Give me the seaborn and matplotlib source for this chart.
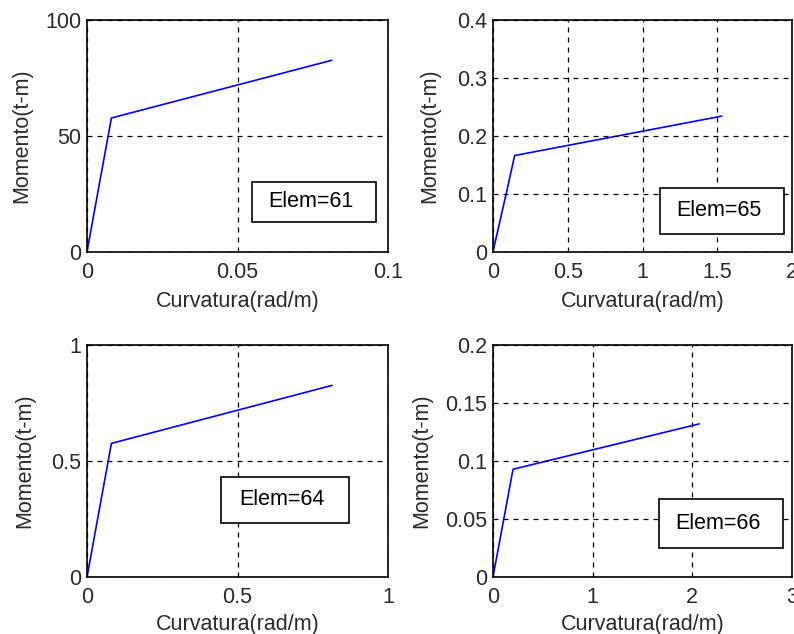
import matplotlib
matplotlib.use("Agg")
import matplotlib.pyplot as plt
import seaborn as sns
import pandas as pd
from matplotlib.patches import Rectangle

sns.set_theme(style="white")
plt.rcParams['font.family'] = ['Liberation Sans', 'DejaVu Sans']

# ---- data ----
elements = [61, 65, 64, 66]
curv_61 = [0.0, 0.0081, 0.0813]
mom_61 = [0.0, 57.7, 82.6]
curv_65 = [0.0, 0.09, 0.145, 1.53]
mom_65 = [0.0, 0.102, 0.166, 0.234]
curv_64 = [0.0, 0.081, 0.814]
mom_64 = [0.0, 0.576, 0.826]
curv_66 = [0.0, 0.201, 2.068]
mom_66 = [0.0, 0.0929, 0.132]

xlims = [(0, 0.1), (0, 2), (0, 1), (0, 3)]
ylims = [(0, 100), (0, 0.4), (0, 1), (0, 0.2)]
xticks = [[0, 0.05, 0.1], [0, 0.5, 1, 1.5, 2], [0, 0.5, 1], [0, 1, 2, 3]]
xticklabels = [["0", "0.05", "0.1"], ["0", "0.5", "1", "1.5", "2"],
               ["0", "0.5", "1"], ["0", "1", "2", "3"]]
yticks = [[0, 50, 100], [0, 0.1, 0.2, 0.3, 0.4], [0, 0.5, 1],
          [0, 0.05, 0.1, 0.15, 0.2]]
yticklabels = [["0", "50", "100"], ["0", "0.1", "0.2", "0.3", "0.4"],
               ["0", "0.5", "1"], ["0", "0.05", "0.1", "0.15", "0.2"]]
xlabel = "Curvatura(rad/m)"
ylabel = "Momento(t-m)"

series = [(curv_61, mom_61), (curv_65, mom_65), (curv_64, mom_64), (curv_66, mom_66)]

# layout (figure fractions) and annotation boxes (axes fractions)
axes_pos = [
    [0.1096, 0.6030, 0.3791, 0.3655],
    [0.6209, 0.6030, 0.3766, 0.3655],
    [0.1096, 0.0899, 0.3791, 0.3659],
    [0.6209, 0.0899, 0.3766, 0.3659],
]
ylabel_x = [-0.216, -0.211, -0.206, -0.238]
xlabel_y = [-0.168, -0.168, -0.160, -0.160]
boxes = [
    (0.548, 0.130, 0.412, 0.170),
    (0.559, 0.078, 0.414, 0.199),
    (0.445, 0.232, 0.425, 0.201),
    (0.555, 0.124, 0.415, 0.211),
]

fig = plt.figure(figsize=(7.94, 6.34), dpi=100)
fs = 15.5
tcol = "#2a2a2a"

for i, (x, y) in enumerate(series):
    ax = fig.add_axes(axes_pos[i])
    df = pd.DataFrame({"x": x, "y": y})
    sns.lineplot(data=df, x="x", y="y", ax=ax, color=(0, 0, 1), linewidth=1.2,
                 estimator=None, sort=False)
    ax.set_xlim(*xlims[i])
    ax.set_ylim(*ylims[i])
    ax.set_xticks(xticks[i])
    ax.set_xticklabels(xticklabels[i])
    ax.set_yticks(yticks[i])
    ax.set_yticklabels(yticklabels[i])
    ax.grid(True, color="black", linestyle=(0, (4, 4)), linewidth=0.9)
    ax.set_axisbelow(False)
    ax.tick_params(direction="in", length=4, width=0.8, labelsize=fs,
                   colors="black", labelcolor=tcol)
    ax.tick_params(axis="x", pad=7.5)
    ax.tick_params(axis="y", pad=4)
    for sp in ax.spines.values():
        sp.set_color("black")
        sp.set_linewidth(1.2)
    ax.set_xlabel(xlabel, fontsize=fs, color=tcol)
    ax.set_ylabel(ylabel, fontsize=fs, color=tcol, va="center")
    ax.xaxis.set_label_coords(0.5, xlabel_y[i])
    ax.yaxis.set_label_coords(ylabel_x[i], 0.5)
    bx, by, bw, bh = boxes[i]
    ax.add_patch(Rectangle((bx, by), bw, bh, transform=ax.transAxes,
                           facecolor="white", edgecolor="black", linewidth=1.2,
                           zorder=5))
    ax.text(bx + bw / 2 - 0.01, by + bh / 2, f"Elem={elements[i]}",
            transform=ax.transAxes, ha="center", va="center",
            fontsize=fs, color="black", zorder=6)

fig.savefig("out.png", dpi=100)
